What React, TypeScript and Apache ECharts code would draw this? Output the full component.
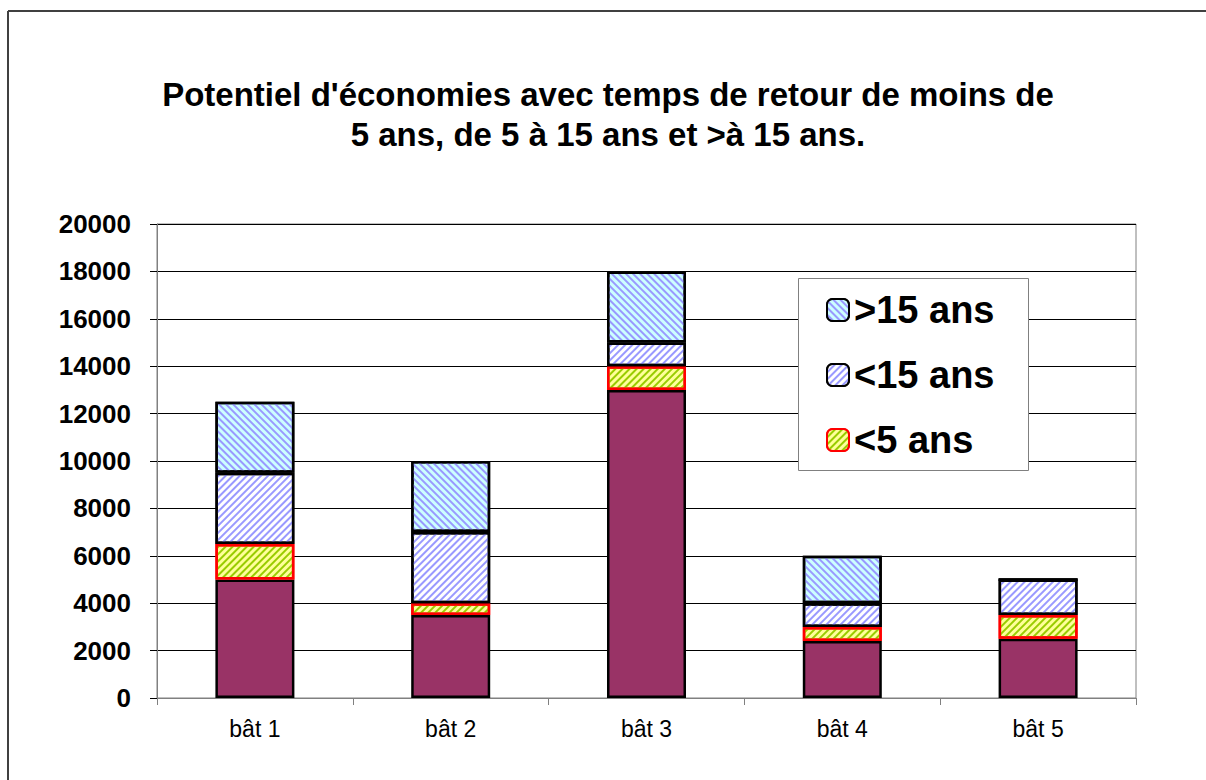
import React, { useEffect, useRef } from "react";
import * as echarts from "echarts";

const categories = ["bât 1", "bât 2", "bât 3", "bât 4", "bât 5"];
const baseValues = [5000, 3500, 13000, 2400, 2500];
const lt5Values = [1500, 500, 1000, 600, 1000];
const lt15Values = [3000, 3000, 1000, 1000, 1500];
const gt15Values = [3000, 3000, 3000, 2000, 0];
const legendNames = [">15 ans", "<15 ans", "<5 ans"];
const titleLines = [
  "Potentiel d'économies avec temps de retour de moins de",
  "5 ans, de 5 à 15 ans et >à 15 ans.",
];

export default function App() {
  const ref = useRef<HTMLDivElement>(null);
  useEffect(() => {
    if (!ref.current) return;
    const chart = echarts.init(ref.current, undefined, { renderer: "svg" });
    const font = "Liberation Sans, Arial, sans-serif";
    const hatch = (color: string, rot: number) => ({
      symbol: "rect",
      symbolSize: 1,
      color,
      dashArrayX: [1, 0],
      dashArrayY: [1.2, 2.8],
      rotation: rot,
    });
    chart.setOption({
      animation: false,
      backgroundColor: "#ffffff",
      title: {
        text: titleLines.join("\n"),
        left: 603,
        top: 69,
        textAlign: "center",
        textStyle: {
          fontFamily: font,
          fontSize: 33,
          fontWeight: "bold",
          lineHeight: 40,
          color: "#000",
        },
      },
      grid: {
        left: 157,
        top: 224,
        width: 979,
        height: 474,
        show: true,
        borderColor: "#808080",
        borderWidth: 1,
        backgroundColor: "transparent",
      },
      legend: {
        data: legendNames,
        orient: "vertical",
        left: 826,
        top: 288,
        padding: 0,
        itemGap: 21,
        itemWidth: 22,
        itemHeight: 22,
        z: 10,
        selectedMode: false,
        textStyle: {
          fontFamily: font,
          fontSize: 38,
          fontWeight: "bold",
          lineHeight: 44,
          color: "#000",
        },
      },
      xAxis: {
        type: "category",
        data: categories,
        axisLine: { lineStyle: { color: "#808080", width: 1 } },
        axisTick: { show: true, length: 7, lineStyle: { color: "#808080" } },
        axisLabel: {
          fontFamily: font,
          fontSize: 23,
          color: "#000",
          margin: 19,
        },
      },
      yAxis: {
        type: "value",
        min: 0,
        max: 20000,
        interval: 2000,
        axisLine: { show: true, lineStyle: { color: "#808080", width: 1 } },
        axisTick: { show: true, length: 7, lineStyle: { color: "#000" } },
        splitLine: { show: true, lineStyle: { color: "#000", width: 1 } },
        axisLabel: {
          fontFamily: font,
          fontSize: 26,
          fontWeight: "bold",
          color: "#000",
          margin: 26,
          formatter: (v: number) => String(v),
        },
      },
      graphic: [
        {
          type: "line",
          shape: { x1: 8, y1: 11, x2: 1206, y2: 11 },
          style: { stroke: "#404040", lineWidth: 2 },
        },
        {
          type: "line",
          shape: { x1: 8, y1: 11, x2: 8, y2: 780 },
          style: { stroke: "#404040", lineWidth: 2 },
        },
        {
          type: "rect",
          z: 5,
          shape: { x: 798.5, y: 278.5, width: 230, height: 192 },
          style: { fill: "#ffffff", stroke: "#808080", lineWidth: 1 },
        },
      ],
      series: [
        {
          name: "base",
          type: "bar",
          stack: "s",
          barWidth: 79,
          data: baseValues,
          itemStyle: { color: "#993366", borderColor: "#000", borderWidth: 2.5 },
        },
        {
          name: "<5 ans",
          type: "bar",
          stack: "s",
          data: lt5Values,
          itemStyle: {
            color: "#ffff99",
            borderColor: "#ff0000",
            borderWidth: 2.5,
            decal: hatch("#99cc00", -Math.PI / 4),
          },
        },
        {
          name: "<15 ans",
          type: "bar",
          stack: "s",
          data: lt15Values,
          itemStyle: {
            color: "#ffffff",
            borderColor: "#000",
            borderWidth: 2.5,
            decal: hatch("#9999ff", -Math.PI / 4),
          },
        },
        {
          name: ">15 ans",
          type: "bar",
          stack: "s",
          data: gt15Values,
          itemStyle: {
            color: "#ccffff",
            borderColor: "#000",
            borderWidth: 2.5,
            decal: hatch("#9999ff", Math.PI / 4),
          },
        },
      ],
    });
    return () => chart.dispose();
  }, []);
  return (
    <div
      ref={ref}
      style={{ position: "absolute", left: 0, top: 0, width: 1206, height: 780 }}
    />
  );
}
